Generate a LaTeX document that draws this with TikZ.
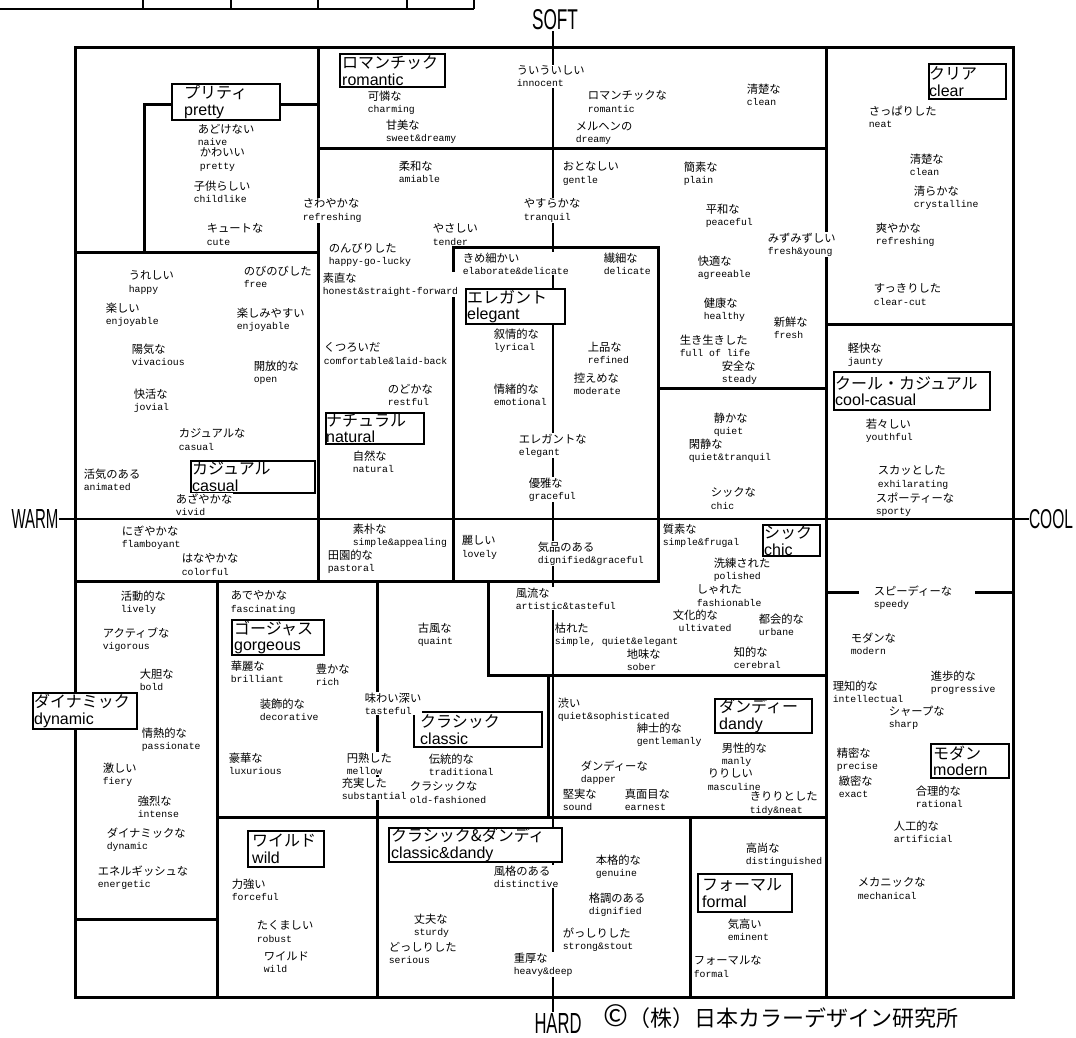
\documentclass[tikz,border=0pt]{standalone}
\usepackage{fontspec}
\usepackage{graphicx}
\newfontfamily\cjk{Noto Sans CJK JP}
\newfontfamily\monof{Liberation Mono}
\newfontfamily\sansf{Liberation Sans}
\newcounter{wc}
\newcommand\jpw{\cjk\fontsize{11.3}{12.3}\selectfont}
\newcommand\enw{\monof\fontsize{9.8}{12.3}\selectfont}
\newcommand\jpc{\cjk\fontsize{16}{16.5}\selectfont}
\newcommand\enc{\sansf\fontsize{16}{16.5}\selectfont}
\tikzset{
 word/.style={anchor=north west, align=left, inner sep=0.6pt, fill=white, font=\fontsize{10}{12.3}\selectfont},
 frame/.style={line width=3pt, line cap=rect},
 axisline/.style={line width=1.3pt},
 catbox/.style={draw, line width=1.8pt, fill=white, anchor=north west, inner sep=0pt},
 cattext/.style={anchor=west, align=left, inner sep=0pt, font=\fontsize{16}{16.5}\selectfont},
 axislabel/.style={inner sep=0pt},
 tabline/.style={line width=1.6pt},
}
\newcommand\kw[4]{\stepcounter{wc}\node[word] (w\arabic{wc}) at (#1,#2) {{\jpw #3}\\{\enw #4}};}
\newcommand\cat[8]{\node[catbox, minimum width=#4pt, minimum height=#5pt] (#1) at (#2,#3) {};
 \node[cattext] (#1t) at ([xshift=#6pt]#1.west) {{\jpc #7}\\{\enc #8}};}
\begin{document}
\begin{tikzpicture}[x=1pt,y=-1pt]
\useasboundingbox[fill=white] (0,0) rectangle (1076,1037);
% partial table at top left
\draw[tabline] (0,9) -- (474,9);
\foreach \xx in {143,231,318,407,474} \draw[tabline] (\xx,0) -- (\xx,9);
% axis labels
\node[axislabel] (soft) at (555,20) {\resizebox{46pt}{20pt}{\sansf SOFT}};
\node[axislabel] (hard) at (558,1023) {\resizebox{47pt}{20pt}{\sansf HARD}};
\node[axislabel] (warm) at (35,519) {\resizebox{47pt}{19pt}{\sansf WARM}};
\node[axislabel] (cool) at (1051,519) {\resizebox{44pt}{19pt}{\sansf COOL}};
\coordinate (vtop) at (553,31);
\coordinate (vbot) at (553,1012);
\draw[axisline] (vtop) -- (vbot);
\draw[axisline] (warm.east) -- (cool.west);
% frame and region borders
\draw[frame] (75,47) rectangle (1013,997);
\draw[frame] (318,47) -- (318,581);
\draw[frame] (318,148) -- (826,148);
\draw[frame] (826,47) -- (826,997);
\draw[frame] (144,252) -- (144,104) -- (318,104);
\draw[frame] (75,252) -- (318,252);
\draw[frame] (826,324) -- (1013,324);
\draw[frame] (453,581) -- (453,247) -- (658,247) -- (658,581);
\draw[frame] (658,388) -- (826,388);
\draw[frame] (75,581) -- (658,581);
\draw[frame] (488,581) -- (488,675) -- (826,675);
\draw[frame] (548,675) -- (548,817);
\draw[frame] (217,817) -- (826,817);
\draw[frame] (217,581) -- (217,997);
\draw[frame] (75,919) -- (217,919);
\draw[frame] (377,581) -- (377,997);
\draw[frame] (690,817) -- (690,997);
\draw[frame] (826,592) -- (857,592);
\draw[frame] (976,592) -- (1013,592);
% category boxes
\cat{romantic}{339}{53}{105}{33}{3}{ロマンチック}{romantic}
\cat{pretty}{171}{83}{108}{36}{13}{プリティ}{pretty}
\cat{clear}{928}{63}{77}{35}{1}{クリア}{clear}
\cat{elegant}{465}{288}{99}{35}{2}{エレガント}{elegant}
\cat{natural}{325}{412}{98}{31}{1}{ナチュラル}{natural}
\cat{casual}{190}{460}{124}{32}{2}{カジュアル}{casual}
\cat{coolcasual}{833}{371}{156}{38}{2}{クール・カジュアル}{cool-casual}
\cat{chic}{762}{524}{57}{31}{2}{シック}{chic}
\cat{gorgeous}{231}{619}{92}{35}{3}{ゴージャス}{gorgeous}
\cat{dynamic}{32}{692}{104}{36}{2}{ダイナミック}{dynamic}
\cat{classic}{413}{711}{128}{35}{7}{クラシック}{classic}
\cat{dandy}{714}{698}{97}{34}{5}{ダンディー}{dandy}
\cat{modern}{930}{743}{78}{34}{3}{モダン}{modern}
\cat{wild}{247}{830}{76}{36}{5}{ワイルド}{wild}
\cat{classicdandy}{388}{827}{173}{34}{3}{クラシック\&ダンディ}{classic\&dandy}
\cat{formal}{697}{873}{94}{38}{5}{フォーマル}{formal}
% words
\kw{197}{123}{あどけない}{naive}
\kw{199}{147}{かわいい}{pretty}
\kw{193}{180}{子供らしい}{childlike}
\kw{206}{223}{キュートな}{cute}
\kw{302}{198}{さわやかな}{refreshing}
\kw{516}{65}{ういういしい}{innocent}
\kw{367}{90}{可憐な}{charming}
\kw{385}{119}{甘美な}{sweet\&dreamy}
\kw{587}{90}{ロマンチックな}{romantic}
\kw{575}{121}{メルヘンの}{dreamy}
\kw{746}{83}{清楚な}{clean}
\kw{868}{105}{さっぱりした}{neat}
\kw{909}{153}{清楚な}{clean}
\kw{913}{185}{清らかな}{crystalline}
\kw{875}{222}{爽やかな}{refreshing}
\kw{873}{283}{すっきりした}{clear-cut}
\kw{398}{160}{柔和な}{amiable}
\kw{562}{161}{おとなしい}{gentle}
\kw{683}{161}{簡素な}{plain}
\kw{523}{198}{やすらかな}{tranquil}
\kw{432}{223}{やさしい}{tender}
\kw{705}{203}{平和な}{peaceful}
\kw{767}{232}{みずみずしい}{fresh\&young}
\kw{328}{242}{のんびりした}{happy-go-lucky}
\kw{322}{272}{素直な}{honest\&straight-forward}
\kw{323}{342}{くつろいだ}{comfortable\&laid-back}
\kw{387}{383}{のどかな}{restful}
\kw{352}{450}{自然な}{natural}
\kw{462}{252}{きめ細かい}{elaborate\&delicate}
\kw{603}{252}{繊細な}{delicate}
\kw{493}{328}{叙情的な}{lyrical}
\kw{587}{341}{上品な}{refined}
\kw{573}{372}{控えめな}{moderate}
\kw{493}{383}{情緒的な}{emotional}
\kw{518}{433}{エレガントな}{elegant}
\kw{528}{477}{優雅な}{graceful}
\kw{461}{535}{麗しい}{lovely}
\kw{537}{541}{気品のある}{dignified\&graceful}
\kw{697}{255}{快適な}{agreeable}
\kw{703}{297}{健康な}{healthy}
\kw{773}{316}{新鮮な}{fresh}
\kw{679}{334}{生き生きした}{full of life}
\kw{721}{360}{安全な}{steady}
\kw{713}{412}{静かな}{quiet}
\kw{688}{438}{閑静な}{quiet\&tranquil}
\kw{710}{487}{シックな}{chic}
\kw{847}{342}{軽快な}{jaunty}
\kw{865}{418}{若々しい}{youthful}
\kw{877}{465}{スカッとした}{exhilarating}
\kw{875}{492}{スポーティーな}{sporty}
\kw{128}{270}{うれしい}{happy}
\kw{243}{265}{のびのびした}{free}
\kw{105}{302}{楽しい}{enjoyable}
\kw{236}{307}{楽しみやすい}{enjoyable}
\kw{131}{343}{陽気な}{vivacious}
\kw{253}{360}{開放的な}{open}
\kw{133}{388}{快活な}{jovial}
\kw{178}{428}{カジュアルな}{casual}
\kw{83}{468}{活気のある}{animated}
\kw{175}{493}{あざやかな}{vivid}
\kw{121}{525}{にぎやかな}{flamboyant}
\kw{181}{553}{はなやかな}{colorful}
\kw{352}{523}{素朴な}{simple\&appealing}
\kw{327}{549}{田園的な}{pastoral}
\kw{662}{523}{質素な}{simple\&frugal}
\kw{713}{557}{洗練された}{polished}
\kw{696}{584}{しゃれた}{fashionable}
\kw{672}{609}{文化的な}{cultivated}
\kw{758}{613}{都会的な}{urbane}
\kw{733}{646}{知的な}{cerebral}
\kw{515}{587}{風流な}{artistic\&tasteful}
\kw{554}{622}{枯れた}{simple, quiet\&elegant}
\kw{626}{648}{地味な}{sober}
\kw{120}{590}{活動的な}{lively}
\kw{102}{627}{アクティブな}{vigorous}
\kw{139}{668}{大胆な}{bold}
\kw{141}{727}{情熱的な}{passionate}
\kw{102}{762}{激しい}{fiery}
\kw{137}{795}{強烈な}{intense}
\kw{106}{827}{ダイナミックな}{dynamic}
\kw{97}{865}{エネルギッシュな}{energetic}
\kw{230}{590}{あでやかな}{fascinating}
\kw{230}{660}{華麗な}{brilliant}
\kw{315}{663}{豊かな}{rich}
\kw{259}{698}{装飾的な}{decorative}
\kw{228}{752}{豪華な}{luxurious}
\kw{417}{622}{古風な}{quaint}
\kw{364}{692}{味わい深い}{tasteful}
\kw{346}{752}{円熟した}{mellow}
\kw{341}{777}{充実した}{substantial}
\kw{428}{753}{伝統的な}{traditional}
\kw{409}{781}{クラシックな}{old-fashioned}
\kw{557}{697}{渋い}{quiet\&sophisticated}
\kw{636}{722}{紳士的な}{gentlemanly}
\kw{580}{760}{ダンディーな}{dapper}
\kw{721}{742}{男性的な}{manly}
\kw{707}{768}{りりしい}{masculine}
\kw{749}{791}{きりりとした}{tidy\&neat}
\kw{562}{788}{堅実な}{sound}
\kw{624}{788}{真面目な}{earnest}
\kw{873}{585}{スピーディーな}{speedy}
\kw{850}{632}{モダンな}{modern}
\kw{930}{670}{進歩的な}{progressive}
\kw{832}{680}{理知的な}{intellectual}
\kw{888}{705}{シャープな}{sharp}
\kw{836}{747}{精密な}{precise}
\kw{838}{775}{緻密な}{exact}
\kw{915}{785}{合理的な}{rational}
\kw{893}{820}{人工的な}{artificial}
\kw{857}{877}{メカニックな}{mechanical}
\kw{745}{842}{高尚な}{distinguished}
\kw{727}{918}{気高い}{eminent}
\kw{693}{955}{フォーマルな}{formal}
\kw{231}{878}{力強い}{forceful}
\kw{256}{920}{たくましい}{robust}
\kw{263}{951}{ワイルド}{wild}
\kw{493}{865}{風格のある}{distinctive}
\kw{595}{854}{本格的な}{genuine}
\kw{588}{892}{格調のある}{dignified}
\kw{413}{913}{丈夫な}{sturdy}
\kw{562}{927}{がっしりした}{strong\&stout}
\kw{388}{941}{どっしりした}{serious}
\kw{513}{952}{重厚な}{heavy\&deep}
% copyright
\node[anchor=west, inner sep=0pt] (copy) at (603,1017) {\cjk{\fontsize{30}{30}\selectfont ©}\fontsize{22}{22}\selectfont（株）日本カラーデザイン研究所};
\end{tikzpicture}
\end{document}
